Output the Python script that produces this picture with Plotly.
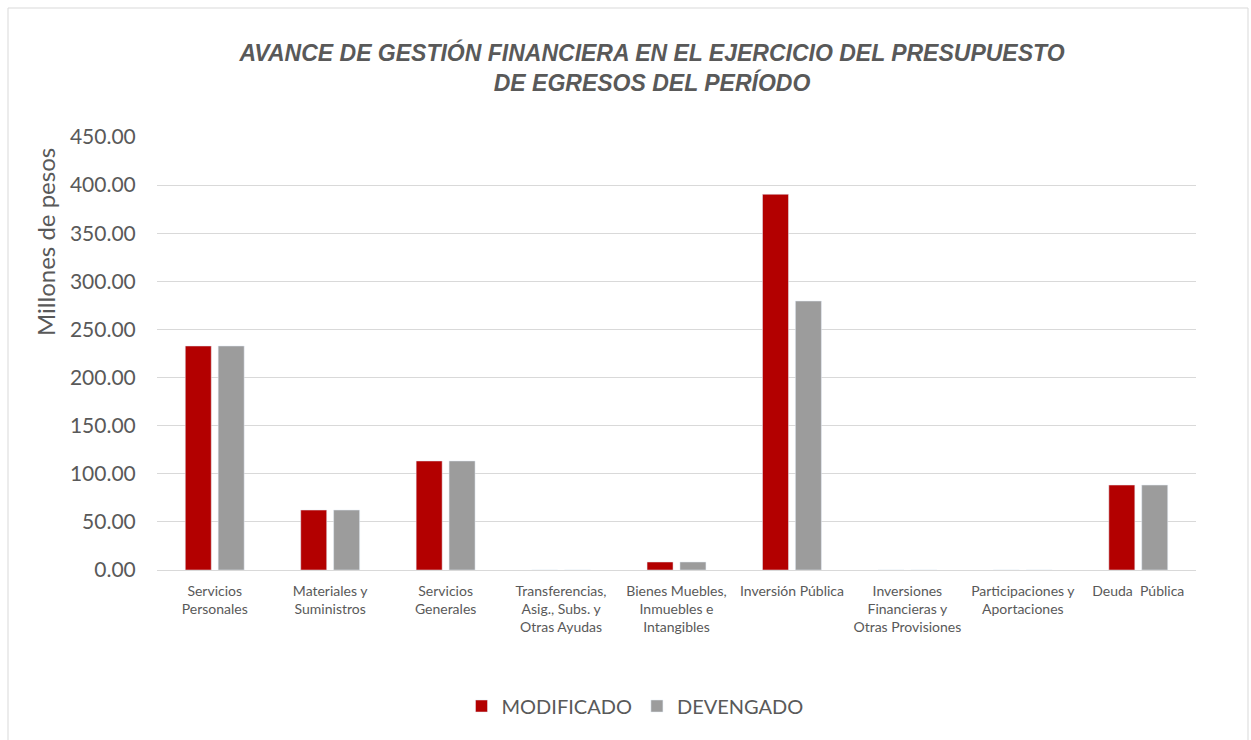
import plotly.graph_objects as go

categories = ["Servicios<br>Personales", "Materiales y<br>Suministros", "Servicios<br>Generales",
              "Transferencias,<br>Asig., Subs. y<br>Otras Ayudas", "Bienes Muebles,<br>Inmuebles e<br>Intangibles",
              "Inversión Pública", "Inversiones<br>Financieras y<br>Otras Provisiones",
              "Participaciones y<br>Aportaciones", "Deuda  Pública"]
modificado = [232.8, 62.3, 113.3, 0, 8.3, 390.5, 0, 0, 88.3]
devengado = [232.8, 62.3, 113.3, 0, 8.3, 279.5, 0, 0, 88.3]
y_ticks = [0, 50, 100, 150, 200, 250, 300, 350, 400, 450]

W, H = 1251, 740
L, R, T, B = 157, 1196, 137, 570

def px_x(p):
    return (p - L) / (R - L)

def px_y(p):
    return (B - p) / (B - T)

TXT = "#595959"
fig = go.Figure()
fig.add_trace(go.Bar(name="MODIFICADO", x=categories, y=modificado, marker_color="#B30000"))
fig.add_trace(go.Bar(name="DEVENGADO", x=categories, y=devengado, marker_color="#9C9C9C"))

fig.update_layout(
    width=W, height=H,
    margin=dict(l=L, r=W - R, t=T, b=H - B, autoexpand=False),
    paper_bgcolor="white", plot_bgcolor="white",
    barmode="group", bargap=0.43, bargroupgap=0.21,
    title=dict(text="AVANCE DE GESTIÓN FINANCIERA EN EL EJERCICIO DEL PRESUPUESTO<br>DE EGRESOS DEL PERÍODO",
               x=px_x(652), xref="paper", xanchor="center",
               y=1 - 61 / H, yref="container", yanchor="top",
               font=dict(family="Liberation Sans", size=23, color=TXT, style="italic", weight="bold")),
    legend=dict(orientation="h", x=px_x(635), xanchor="center", y=px_y(706), yanchor="middle",
                font=dict(family="Lato", size=20, color=TXT), itemwidth=30, traceorder="normal"),
    xaxis=dict(tickfont=dict(family="Lato", size=14, color=TXT), showgrid=False,
               showline=True, linecolor="#D9D9D9", linewidth=1,
               ticks="outside", ticklen=8, tickcolor="rgba(0,0,0,0)"),
    yaxis=dict(range=[0, 450], tickvals=y_ticks, tickformat=".2f",
               tickfont=dict(family="Lato", size=21, color=TXT),
               gridcolor="#D9D9D9", gridwidth=1, zeroline=False,
               ticks="outside", ticklen=16, tickcolor="rgba(0,0,0,0)"),
    showlegend=True,
)

fig.add_annotation(text="Millones de pesos", xref="paper", yref="paper",
                   x=px_x(45), y=px_y(242), textangle=-90, showarrow=False,
                   xanchor="center", yanchor="middle",
                   font=dict(family="Lato", size=24, color=TXT))

fig.add_shape(type="rect", xref="paper", yref="paper",
              x0=px_x(8), x1=px_x(1248), y0=px_y(745), y1=px_y(8),
              line=dict(color="#D9D9D9", width=1), fillcolor="rgba(0,0,0,0)", layer="below")

fig.write_html("out.html")
